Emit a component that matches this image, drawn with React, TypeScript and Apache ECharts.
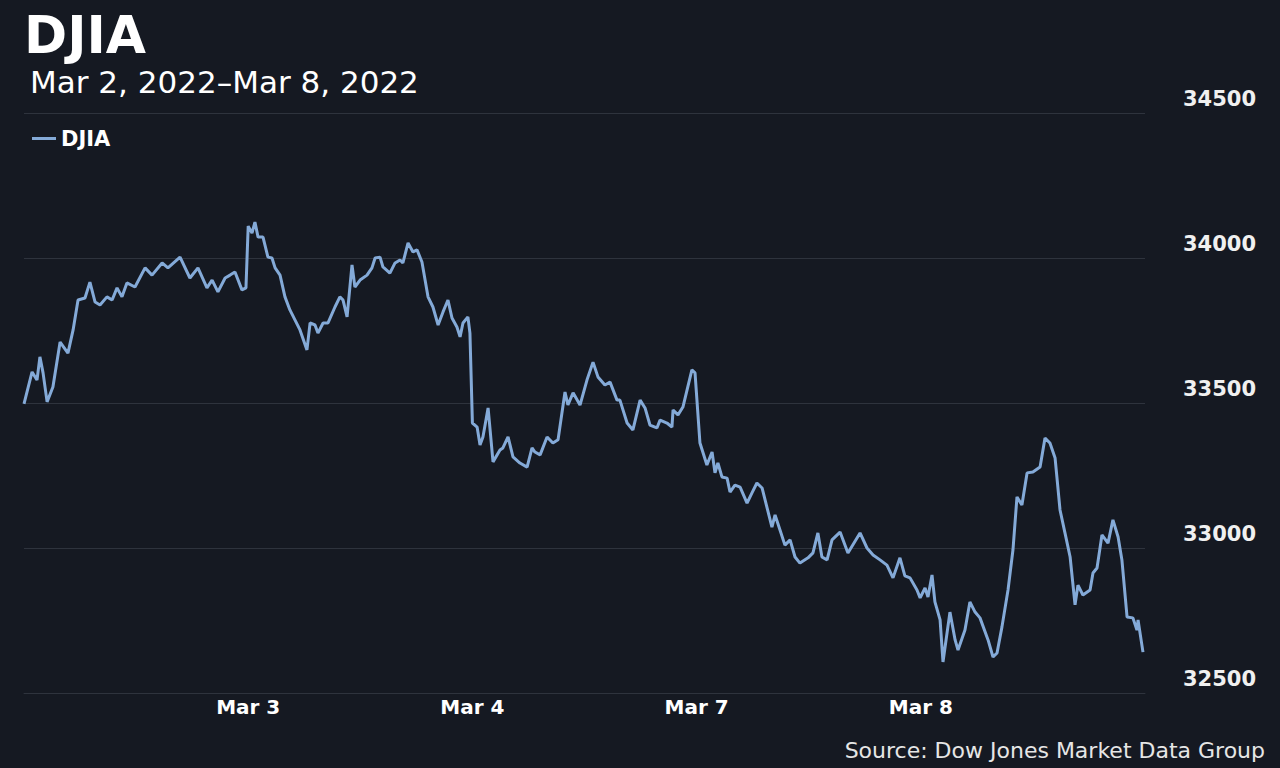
import React, { useEffect, useRef } from "react";
import * as echarts from "echarts";

// Position in trading days from the Mar 2 open (0 = Mar 2 open, 1 = Mar 3 open, ...)
const sessionTimes: number[] = [
  0.0, 0.036, 0.058, 0.071, 0.085, 0.103, 0.129, 0.161, 0.196, 0.219,
  0.241, 0.272, 0.294, 0.317, 0.339, 0.37, 0.393, 0.415, 0.437, 0.459,
  0.495, 0.54, 0.571, 0.616, 0.642, 0.696, 0.74, 0.776, 0.816, 0.839,
  0.865, 0.897, 0.919, 0.941, 0.972, 0.99,
  1.0, 1.017, 1.03, 1.044, 1.066, 1.088, 1.106, 1.12, 1.142, 1.164,
  1.186, 1.209, 1.231, 1.262, 1.276, 1.298, 1.311, 1.334, 1.356, 1.387,
  1.409, 1.423, 1.441, 1.463, 1.476, 1.499, 1.53, 1.552, 1.566, 1.588,
  1.601, 1.632, 1.655, 1.677, 1.69, 1.713, 1.735, 1.753, 1.775, 1.802,
  1.824, 1.847, 1.869, 1.891, 1.909, 1.931, 1.945, 1.958, 1.98, 1.989,
  2.0, 2.021, 2.034, 2.047, 2.07, 2.092, 2.123, 2.136, 2.159, 2.181,
  2.212, 2.244, 2.266, 2.279, 2.302, 2.333, 2.359, 2.382, 2.413, 2.426,
  2.449, 2.48, 2.511, 2.538, 2.56, 2.591, 2.614, 2.645, 2.658, 2.69,
  2.716, 2.748, 2.77, 2.792, 2.823, 2.837, 2.868, 2.89, 2.895, 2.917,
  2.939, 2.979, 2.993,
  3.015, 3.046, 3.069, 3.082, 3.095, 3.113, 3.136, 3.149, 3.171, 3.194,
  3.225, 3.247, 3.269, 3.292, 3.336, 3.35, 3.372, 3.394, 3.417, 3.439,
  3.461, 3.497, 3.519, 3.541, 3.559, 3.582, 3.604, 3.64, 3.675, 3.729,
  3.76, 3.787, 3.818, 3.849, 3.876, 3.907, 3.929, 3.952, 3.983, 3.997,
  4.019, 4.032, 4.05, 4.063, 4.086, 4.099, 4.13, 4.153, 4.166, 4.197,
  4.219, 4.242, 4.264, 4.3, 4.322, 4.34, 4.362, 4.389, 4.411, 4.429,
  4.451, 4.474, 4.5, 4.532, 4.554, 4.576, 4.599, 4.621, 4.643, 4.666,
  4.688, 4.701, 4.723, 4.755, 4.768, 4.786, 4.808, 4.835, 4.857, 4.88,
  4.897, 4.92, 4.946, 4.964, 4.969, 4.991,
];

const djiaValues: number[] = [
  33497, 33607, 33579, 33659, 33604, 33504, 33555, 33710, 33672, 33752,
  33855, 33862, 33917, 33848, 33838, 33866, 33855, 33897, 33866, 33914,
  33900, 33966, 33941, 33983, 33966, 34003, 33931, 33966, 33897, 33924,
  33883, 33931, 33941, 33952, 33890, 33897,
  34110, 34086, 34124, 34072, 34072, 34003, 34000, 33966, 33941, 33866,
  33821, 33786, 33752, 33683, 33776, 33769, 33741, 33776, 33776, 33831,
  33866, 33855, 33797, 33976, 33900, 33924, 33941, 33966, 34000, 34003,
  33969, 33948, 33983, 33993, 33983, 34052, 34021, 34028, 33986, 33866,
  33831, 33769, 33814, 33855, 33793, 33762, 33728, 33776, 33797, 33741,
  33431, 33417, 33355, 33383, 33483, 33297, 33338, 33345, 33383, 33314,
  33293, 33279, 33345, 33331, 33321, 33383, 33362, 33373, 33538, 33493,
  33535, 33493, 33579, 33641, 33590, 33562, 33572, 33510, 33510, 33431,
  33407, 33510, 33483, 33424, 33414, 33441, 33431, 33417, 33476, 33459,
  33486, 33614, 33604,
  33362, 33286, 33331, 33259, 33293, 33245, 33241, 33193, 33217, 33210,
  33155, 33190, 33224, 33207, 33072, 33114, 33062, 33010, 33028, 32969,
  32948, 32966, 32983, 33052, 32969, 32959, 33028, 33055, 32983, 33052,
  33000, 32976, 32959, 32941, 32897, 32966, 32904, 32897, 32855, 32828,
  32862, 32831, 32907, 32814, 32752, 32607, 32779, 32683, 32648, 32717,
  32814, 32779, 32759, 32683, 32624, 32638, 32728, 32855, 32993, 33176,
  33148, 33259, 33262, 33279, 33379, 33362, 33310, 33131, 33052, 32969,
  32804, 32872, 32838, 32855, 32914, 32931, 33045, 33017, 33097, 33038,
  32959, 32762, 32759, 32717, 32752, 32641,
];

// Day-start tick labels (index = trading day number)
const dayLabels: string[] = ["Mar 2", "Mar 3", "Mar 4", "Mar 7", "Mar 8", ""];
const yMin = 32500;
const yMax = 34500;
const yStep = 500;

const titleText = "DJIA";
const subtitleText = "Mar 2, 2022\u2013Mar 8, 2022";
const seriesName = "DJIA";
const sourceText = "Source: Dow Jones Market Data Group";

const BG = "#151922";
const LINE = "#84aad8";
const GRID = "#2e333d";

export default function App() {
  const ref = useRef<HTMLDivElement>(null);

  useEffect(() => {
    document.body.style.margin = "0";
    document.body.style.background = BG;
    if (!ref.current) return;
    const chart = echarts.init(ref.current, undefined, { renderer: "svg" });
    const data = sessionTimes.map((t, i) => [t, djiaValues[i]]);
    chart.setOption({
      animation: false,
      backgroundColor: BG,
      grid: { left: 24, right: 135, top: 113, bottom: 75, containLabel: false },
      legend: {
        show: true,
        left: 27,
        top: 123,
        itemWidth: 24,
        itemHeight: 3,
        itemGap: 8,
        icon: "rect",
        data: [seriesName],
        textStyle: {
          color: "#ffffff",
          fontFamily: "DejaVu Sans",
          fontWeight: "bold",
          fontSize: 21,
        },
      },
      graphic: [
        {
          type: "text",
          left: 24,
          top: 9,
          style: {
            text: titleText,
            fill: "#ffffff",
            font: "bold 52px 'DejaVu Sans'",
          },
        },
        {
          type: "text",
          left: 30,
          top: 66,
          style: {
            text: subtitleText,
            fill: "#ffffff",
            font: "31px 'DejaVu Sans'",
          },
        },
        {
          type: "text",
          right: 15,
          top: 739,
          style: {
            text: sourceText,
            fill: "#e6e6e6",
            font: "22px 'DejaVu Sans'",
          },
        },
      ],
      xAxis: {
        type: "value",
        min: 0,
        max: 5,
        interval: 1,
        axisLine: { show: true, lineStyle: { color: GRID, width: 1 } },
        axisTick: { show: false },
        splitLine: { show: false },
        axisLabel: {
          show: true,
          showMinLabel: false,
          showMaxLabel: false,
          color: "#ffffff",
          fontFamily: "DejaVu Sans",
          fontWeight: "bold",
          fontSize: 20,
          margin: 4,
          formatter: (v: number) => dayLabels[Math.round(v)] ?? "",
        },
      },
      yAxis: {
        type: "value",
        position: "right",
        min: yMin,
        max: yMax,
        interval: yStep,
        axisLine: { show: false },
        axisTick: { show: false },
        splitLine: { show: true, lineStyle: { color: GRID, width: 1 } },
        axisLabel: {
          show: true,
          color: "#f0f0f0",
          fontFamily: "DejaVu Sans",
          fontWeight: "bold",
          fontSize: 21,
          margin: 38,
          align: "left",
          verticalAlign: "bottom",
          padding: [0, 0, 4, 0],
          formatter: (v: number) => String(v),
        },
      },
      series: [
        {
          name: seriesName,
          type: "line",
          data,
          showSymbol: false,
          symbol: "none",
          smooth: false,
          itemStyle: { color: LINE },
          lineStyle: { color: LINE, width: 3 },
        },
      ],
    });
    return () => chart.dispose();
  }, []);

  return <div ref={ref} style={{ width: 1280, height: 768, background: BG }} />;
}
